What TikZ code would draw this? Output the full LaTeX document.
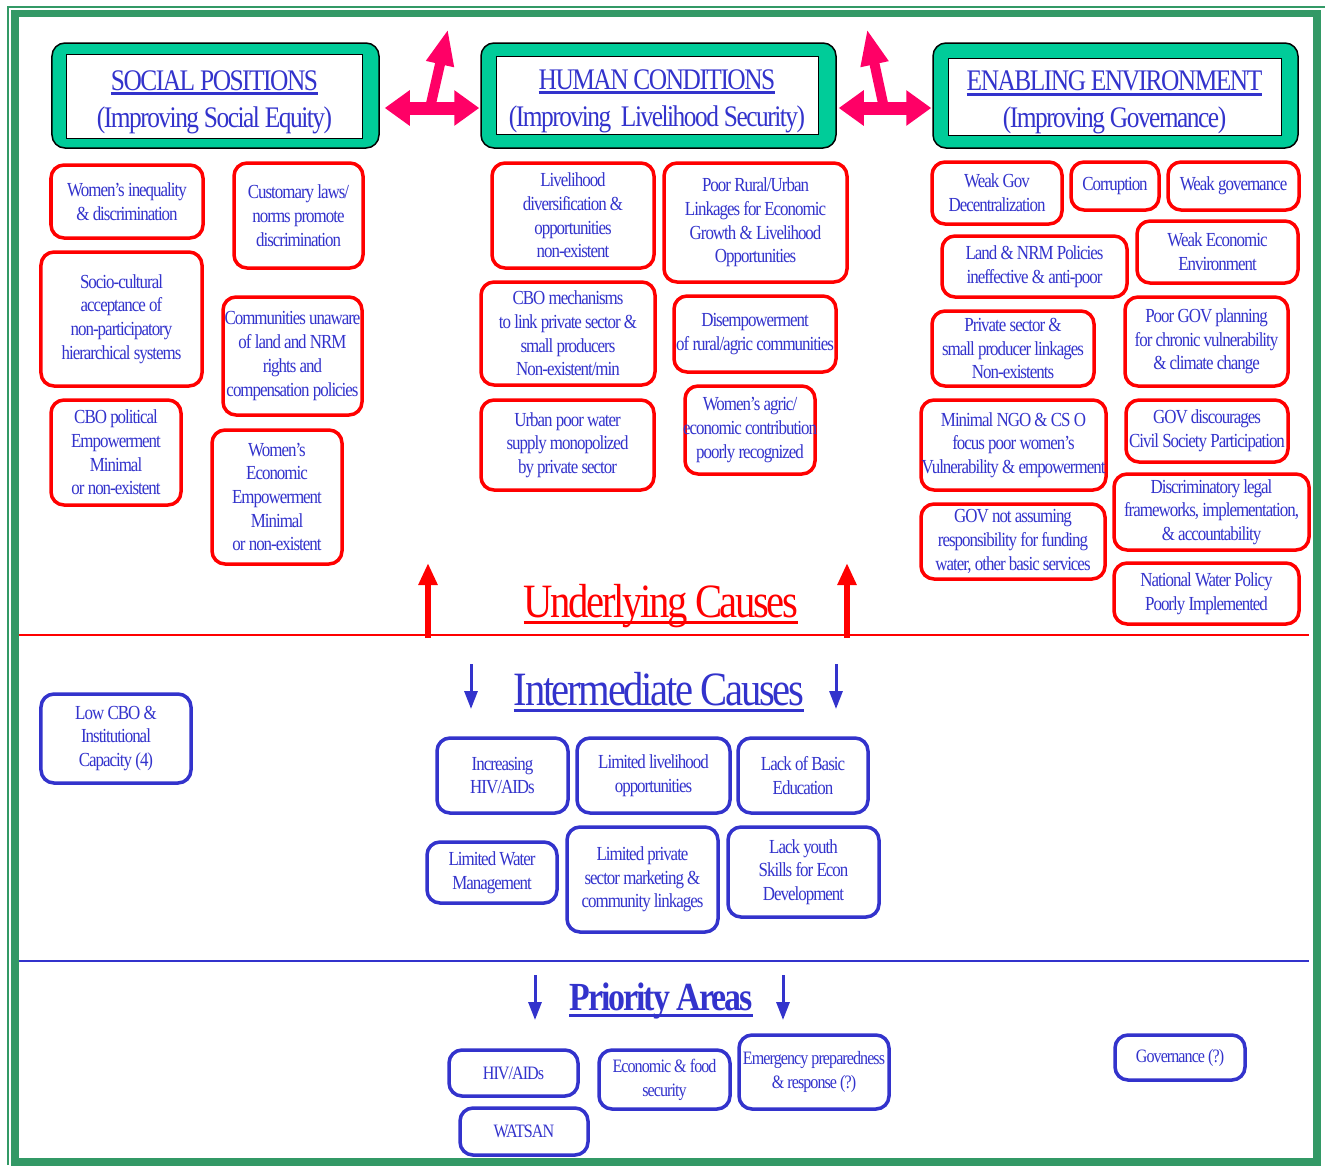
\documentclass[tikz,border=0pt]{standalone}
\usepackage{fontspec}
\setmainfont{Liberation Serif}[FakeStretch=0.85,LetterSpace=-5]
\usetikzlibrary{arrows.meta}

\definecolor{cgreen}{HTML}{00CC99}
\definecolor{cframe}{HTML}{339966}
\definecolor{cblue}{HTML}{3333CC}
\definecolor{cred}{HTML}{FF0000}
\definecolor{cpink}{HTML}{FF0066}

% underlined text: #1 text, #2 rule bottom below baseline, #3 rule thickness
\newcommand\ulin[3]{\setbox0\hbox{#1}\leavevmode\rlap{\rule[-#2]{\wd0}{#3}}\box0}

% box from corner (#3,#4) to (#5,#6), style #1, name #2, text #7
\newcommand\cbox[8][txt]{%
  \pgfmathsetmacro\cbx{(#4+#6)/2}%
  \pgfmathsetmacro\cby{(#5+#7)/2}%
  \pgfmathsetmacro\cbw{#6-#4}%
  \pgfmathsetmacro\cbh{#7-#5}%
  \node[#2,minimum width=\cbw bp,minimum height=\cbh bp] (#3) at (\cbx,\cby) {};
  \node[#1] at (#3.center) {#8};}

\tikzset{
  redbox/.style={draw=cred,line width=3.5bp,rounded corners=13bp,fill=white,inner sep=0pt},
  bluebox/.style={draw=cblue,line width=3.5bp,rounded corners=13bp,fill=white,inner sep=0pt},
  hdrout/.style={draw=black,fill=cgreen,line width=1.5bp,rounded corners=13bp,inner sep=0pt},
  hdrin/.style={draw=black,fill=white,line width=1bp,inner sep=0pt},
  txt/.style={align=center,text=cblue,inner sep=0pt,font=\fontsize{20}{23.8}\selectfont},
  prtxt/.style={align=center,text=cblue,inner sep=0pt,font=\fontsize{19}{24}\selectfont},
  hdrtxt/.style={align=center,text=cblue,inner sep=0pt,yshift=-6bp,font=\fontsize{30}{37}\selectfont},
  pdbl/.style={draw=cpink,line width=13bp,{Triangle[length=25bp,width=34bp]}-{Triangle[length=25bp,width=34bp]}},
  pup/.style={draw=cpink,line width=10bp,-{Triangle[length=36bp,width=26bp]}},
  rup/.style={draw=cred,line width=6bp,-{Triangle[length=22bp,width=18bp]}},
  bdown/.style={draw=cblue,line width=3bp,-{Triangle[length=18bp,width=13bp]}},
}

\begin{document}
\begin{tikzpicture}[x=1bp,y=-1bp]
\useasboundingbox (0,0) rectangle (1325,1165);
\fill[white] (0,0) rectangle (1325,1165);

% page frame
\draw[cframe,line width=1.5bp] (8,1165) -- (8,7) -- (1325,7);
\draw[cframe,line width=7.5bp] (15,13.5) rectangle (1317,1162);

% section separators
\draw[cred,line width=2bp] (19,635) -- (1309,635);
\draw[cblue,line width=2bp] (19,961) -- (1309,961);

% header boxes
\cbox{hdrout}{hs}{52}{43}{379}{148}{}
\cbox[hdrtxt]{hdrin}{hsi}{67}{54}{362}{138}{\ulin{SOCIAL POSITIONS}{5bp}{3bp}\\(Improving Social Equity)}
\cbox{hdrout}{hh}{481}{43}{836}{148}{}
\cbox[hdrtxt]{hdrin}{hhi}{496}{56}{818}{134}{\ulin{HUMAN CONDITIONS}{5bp}{3bp}\\(Improving\ \ Livelihood Security)}
\cbox{hdrout}{he}{933}{43}{1298}{148}{}
\cbox[hdrtxt]{hdrin}{hei}{948}{58}{1281}{135}{\ulin{ENABLING ENVIRONMENT}{5bp}{3bp}\\(Improving Governance)}

% pink linking arrows between the headers
\coordinate (j1) at (430,108);
\coordinate (t1) at (448,29);
\coordinate (j2) at (884,108);
\coordinate (t2) at (867,29);
\draw[pdbl,shorten <=5bp,shorten >=1bp] (hs.east |- j1) -- (hh.west |- j1);
\draw[pup] (j1) -- (t1);
\draw[pdbl,shorten <=2bp,shorten >=1bp] (hh.east |- j2) -- (he.west |- j2);
\draw[pup] (j2) -- (t2);

% underlying causes: social positions
\cbox{redbox}{s1}{51}{165}{203}{238}{Women’s inequality\\\& discrimination}
\cbox{redbox}{s2}{234}{163}{363}{268}{Customary laws/\\norms promote\\discrimination}
\cbox{redbox}{s3}{41}{252}{202}{386}{Socio-cultural\\acceptance of\\non-participatory\\hierarchical systems}
\cbox{redbox}{s4}{223}{297}{362}{415}{Communities unaware\\of land and NRM\\rights and\\compensation policies}
\cbox{redbox}{s5}{51}{400}{181}{505}{CBO political\\Empowerment\\Minimal\\or non-existent}
\cbox{redbox}{s6}{212}{430}{342}{564}{Women’s\\Economic\\Empowerment\\Minimal\\or non-existent}

% underlying causes: human conditions
\cbox{redbox}{h1}{492}{163}{654}{268}{Livelihood\\diversification \&\\opportunities\\non-existent}
\cbox{redbox}{h2}{664}{163}{847}{282}{Poor Rural/Urban\\Linkages for Economic\\Growth \& Livelihood\\Opportunities}
\cbox{redbox}{h3}{481}{282}{655}{385}{CBO mechanisms\\to link private sector \&\\small producers\\Non-existent/min}
\cbox{redbox}{h4}{674}{296}{836}{372}{Disempowerment\\of rural/agric communities}
\cbox{redbox}{h5}{481}{400}{654}{490}{Urban poor water\\supply monopolized\\by private sector}
\cbox{redbox}{h6}{685}{386}{815}{474}{Women’s agric/\\economic contribution\\poorly recognized}

% underlying causes: enabling environment
\cbox{redbox}{e1}{932}{162}{1062}{224}{Weak Gov\\Decentralization}
\cbox{redbox}{e2}{1071}{162}{1159}{210}{Corruption}
\cbox{redbox}{e3}{1168}{162}{1299}{210}{Weak governance}
\cbox{redbox}{e4}{942}{236}{1127}{297}{Land \& NRM Policies\\ineffective \& anti-poor}
\cbox{redbox}{e5}{1137}{221}{1298}{283}{Weak Economic\\Environment}
\cbox{redbox}{e6}{932}{311}{1094}{386}{Private sector \&\\small producer linkages\\Non-existents}
\cbox{redbox}{e7}{1125}{297}{1288}{386}{Poor GOV planning\\for chronic vulnerability\\\& climate change}
\cbox{redbox}{e8}{921}{400}{1106}{490}{Minimal NGO \& CS O\\focus poor women’s\\Vulnerability \& empowerment}
\cbox{redbox}{e9}{1126}{400}{1288}{462}{GOV discourages\\Civil Society Participation}
\cbox{redbox}{e10}{921}{504}{1105}{579}{GOV not assuming\\responsibility for funding\\water, other basic services}
\cbox{redbox}{e11}{1114}{474}{1309}{550}{Discriminatory legal\\frameworks, implementation,\\\& accountability}
\cbox{redbox}{e12}{1114}{563}{1299}{624}{National Water Policy\\Poorly Implemented}

% section titles
\node[anchor=base,text=cred,inner sep=0pt,font=\fontsize{48}{48}\selectfont] (ut) at (661,617) {\ulin{Underlying Causes}{7bp}{3bp}};
\node[anchor=base,text=cblue,inner sep=0pt,font=\fontsize{48}{48}\selectfont] (it) at (659,705) {\ulin{Intermediate Causes}{7bp}{3bp}};
\node[anchor=base,text=cblue,inner sep=0pt,font=\fontsize{40}{40}\selectfont\bfseries] (pt) at (661,1010) {\ulin{Priority Areas}{7bp}{3bp}};

% direction arrows
\coordinate (u1a) at (428,638); \coordinate (u1b) at (428,563);
\coordinate (u2a) at (847,638); \coordinate (u2b) at (847,563);
\draw[rup] (u1a) -- (u1b);
\draw[rup] (u2a) -- (u2b);
\coordinate (d1a) at (471,664); \coordinate (d1b) at (471,709);
\coordinate (d2a) at (836,664); \coordinate (d2b) at (836,709);
\draw[bdown] (d1a) -- (d1b);
\draw[bdown] (d2a) -- (d2b);
\coordinate (d3a) at (535,975); \coordinate (d3b) at (535,1020);
\coordinate (d4a) at (783,975); \coordinate (d4b) at (783,1020);
\draw[bdown] (d3a) -- (d3b);
\draw[bdown] (d4a) -- (d4b);

% intermediate causes
\cbox{bluebox}{i0}{41}{694}{191}{783}{Low CBO \&\\Institutional\\Capacity (4)}
\cbox{bluebox}{i1}{437}{738}{568}{813}{Increasing\\HIV/AIDs}
\cbox{bluebox}{i2}{577}{738}{730}{813}{Limited livelihood\\opportunities}
\cbox{bluebox}{i3}{738}{738}{868}{813}{Lack of Basic\\Education}
\cbox{bluebox}{i4}{427}{842}{557}{903}{Limited Water\\Management}
\cbox{bluebox}{i5}{567}{827}{718}{932}{Limited private\\sector marketing \&\\community linkages}
\cbox{bluebox}{i6}{728}{827}{879}{917}{Lack youth\\Skills for Econ\\Development}

% priority areas
\cbox[prtxt]{bluebox}{p1}{449}{1050}{578}{1096}{HIV/AIDs}
\cbox[prtxt]{bluebox}{p2}{460}{1108}{588}{1155}{WATSAN}
\cbox[prtxt]{bluebox}{p3}{599}{1050}{730}{1109}{Economic \& food\\security}
\cbox[prtxt]{bluebox}{p4}{739}{1035}{889}{1109}{Emergency preparedness\\\& response (?)}
\cbox[prtxt]{bluebox}{p5}{1115}{1035}{1245}{1080}{Governance (?)}
\end{tikzpicture}
\end{document}
